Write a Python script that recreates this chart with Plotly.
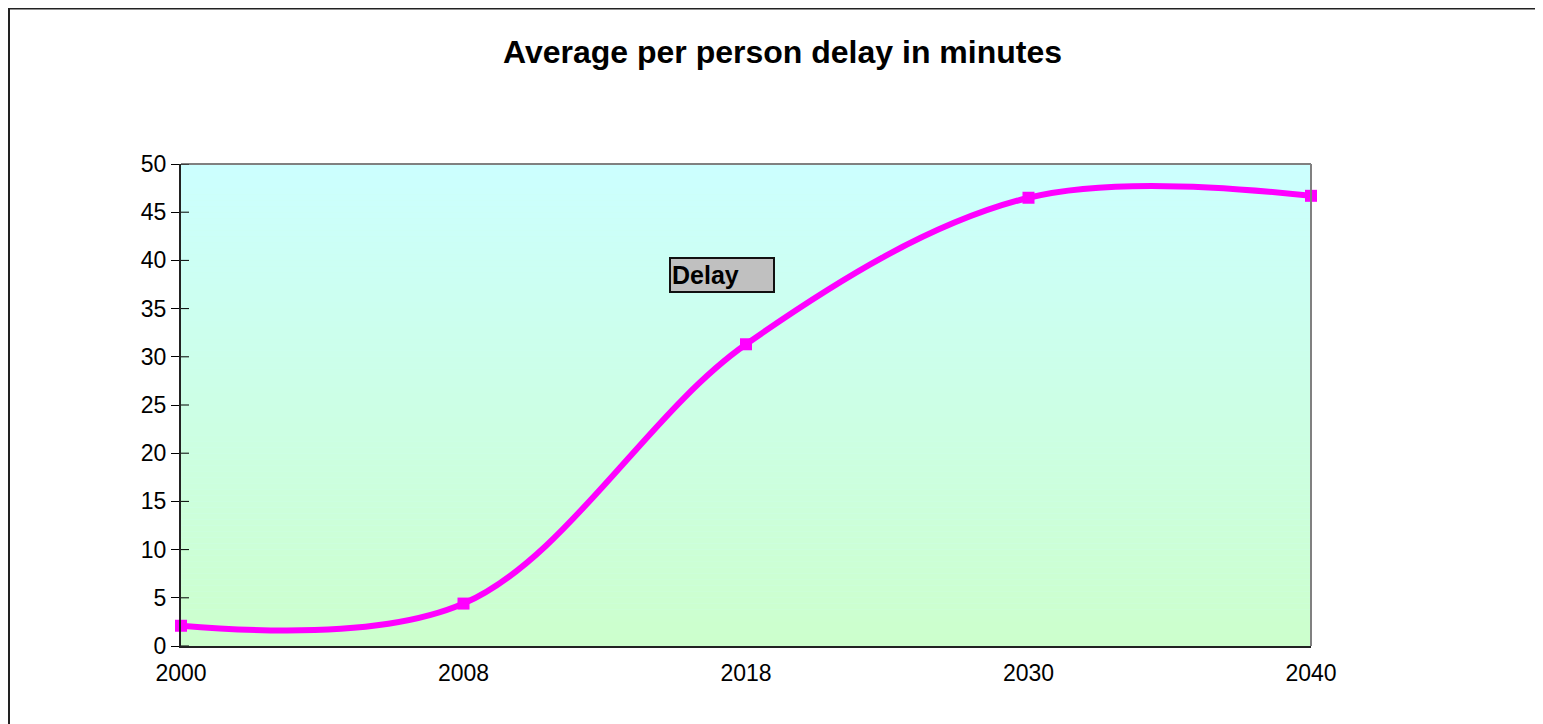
import plotly.graph_objects as go

# ---- data ----
years = ["2000", "2008", "2018", "2030", "2040"]
delay = [2.1, 4.4, 31.3, 46.5, 46.7]
series_name = "Delay"
title_text = "Average per person delay in minutes"
y_ticks = list(range(0, 51, 5))

# page body has an 8px margin, so the figure starts at page (8, 8)
OFF = 8
W, H = 1543 - OFF, 724 - OFF
L, T = 181 - OFF, 164 - OFF
R = W - (1311 - OFF)
B = H - (646 - OFF)
pw, ph = W - L - R, H - T - B
FONT = "Liberation Sans, Arial, sans-serif"

fig = go.Figure()
fig.add_trace(go.Scatter(
    x=years, y=delay, name=series_name, mode="lines+markers",
    line=dict(color="#FF00FF", width=6, shape="spline", smoothing=1.0),
    marker=dict(symbol="square", size=12, color="#FF00FF"),
    showlegend=False, cliponaxis=False,
))

shapes = []
# gradient plot background (cyan top -> green bottom)
n = 80
top = (204, 255, 255)
bot = (204, 255, 204)
for i in range(n):
    t = (i + 0.5) / n
    c = tuple(round(bot[k] + (top[k] - bot[k]) * t) for k in range(3))
    shapes.append(dict(type="rect", xref="paper", yref="paper",
                       x0=0, x1=1, y0=i / n, y1=(i + 1) / n,
                       fillcolor="rgb(%d,%d,%d)" % c, line=dict(width=0), layer="below"))
# top & right plot border (gray)
shapes.append(dict(type="line", xref="paper", yref="paper", x0=0, x1=1, y0=1, y1=1,
                   line=dict(color="#808080", width=2)))
shapes.append(dict(type="line", xref="paper", yref="paper", x0=1, x1=1, y0=0, y1=1,
                   line=dict(color="#808080", width=2)))
# inner halves of cross tick marks on y; full cross ticks on x
for v in y_ticks:
    shapes.append(dict(type="line", xref="paper", yref="y", x0=0, x1=8 / pw, y0=v, y1=v,
                       line=dict(color="black", width=1)))
for c in years:
    shapes.append(dict(type="line", xref="x", yref="paper", x0=c, x1=c,
                       y0=-8 / ph, y1=8 / ph, line=dict(color="black", width=1)))
# outer chart border (left and top edges visible)
shapes.append(dict(type="rect", xref="paper", yref="paper",
                   x0=(1 - L) / pw, x1=(W + 20 - L) / pw,
                   y0=-(B + 20) / ph, y1=(T - 0.5) / ph + 1,
                   line=dict(color="#222222", width=2), fillcolor="rgba(0,0,0,0)"))

fig.update_layout(
    width=W, height=H,
    margin=dict(l=L, r=R, t=T, b=B, pad=0),
    paper_bgcolor="white", plot_bgcolor="#CCFFEE",
    font=dict(family=FONT, size=22, color="black"),
    title=dict(text="<b>" + title_text + "</b>", x=(782.5 - OFF) / W, xanchor="center",
               y=1 - (52 - OFF) / H, yanchor="middle",
               font=dict(size=32, family=FONT, color="black")),
    xaxis=dict(type="category", range=[0, len(years) - 1], showgrid=False, zeroline=False,
               showline=True, linecolor="#222222", linewidth=2,
               ticks="outside", ticklen=5, tickcolor="rgba(0,0,0,0)",
               tickfont=dict(size=23)),
    yaxis=dict(range=[0, 50], tickvals=y_ticks, showgrid=False, zeroline=False,
               showline=True, linecolor="#222222", linewidth=2,
               ticks="outside", ticklen=8, tickcolor="black", tickwidth=1,
               tickfont=dict(size=23)),
    shapes=shapes,
    annotations=[dict(
        text="<b>" + series_name + "</b>", xref="paper", yref="paper",
        x=(721.5 - 181) / pw, y=(646 - 274.5) / ph, xanchor="center", yanchor="middle",
        showarrow=False, bgcolor="#C0C0C0", bordercolor="#111111", borderwidth=2,
        width=100, height=30, align="left", font=dict(size=25, family=FONT, color="black"),
    )],
)

fig.write_html("out.html")
